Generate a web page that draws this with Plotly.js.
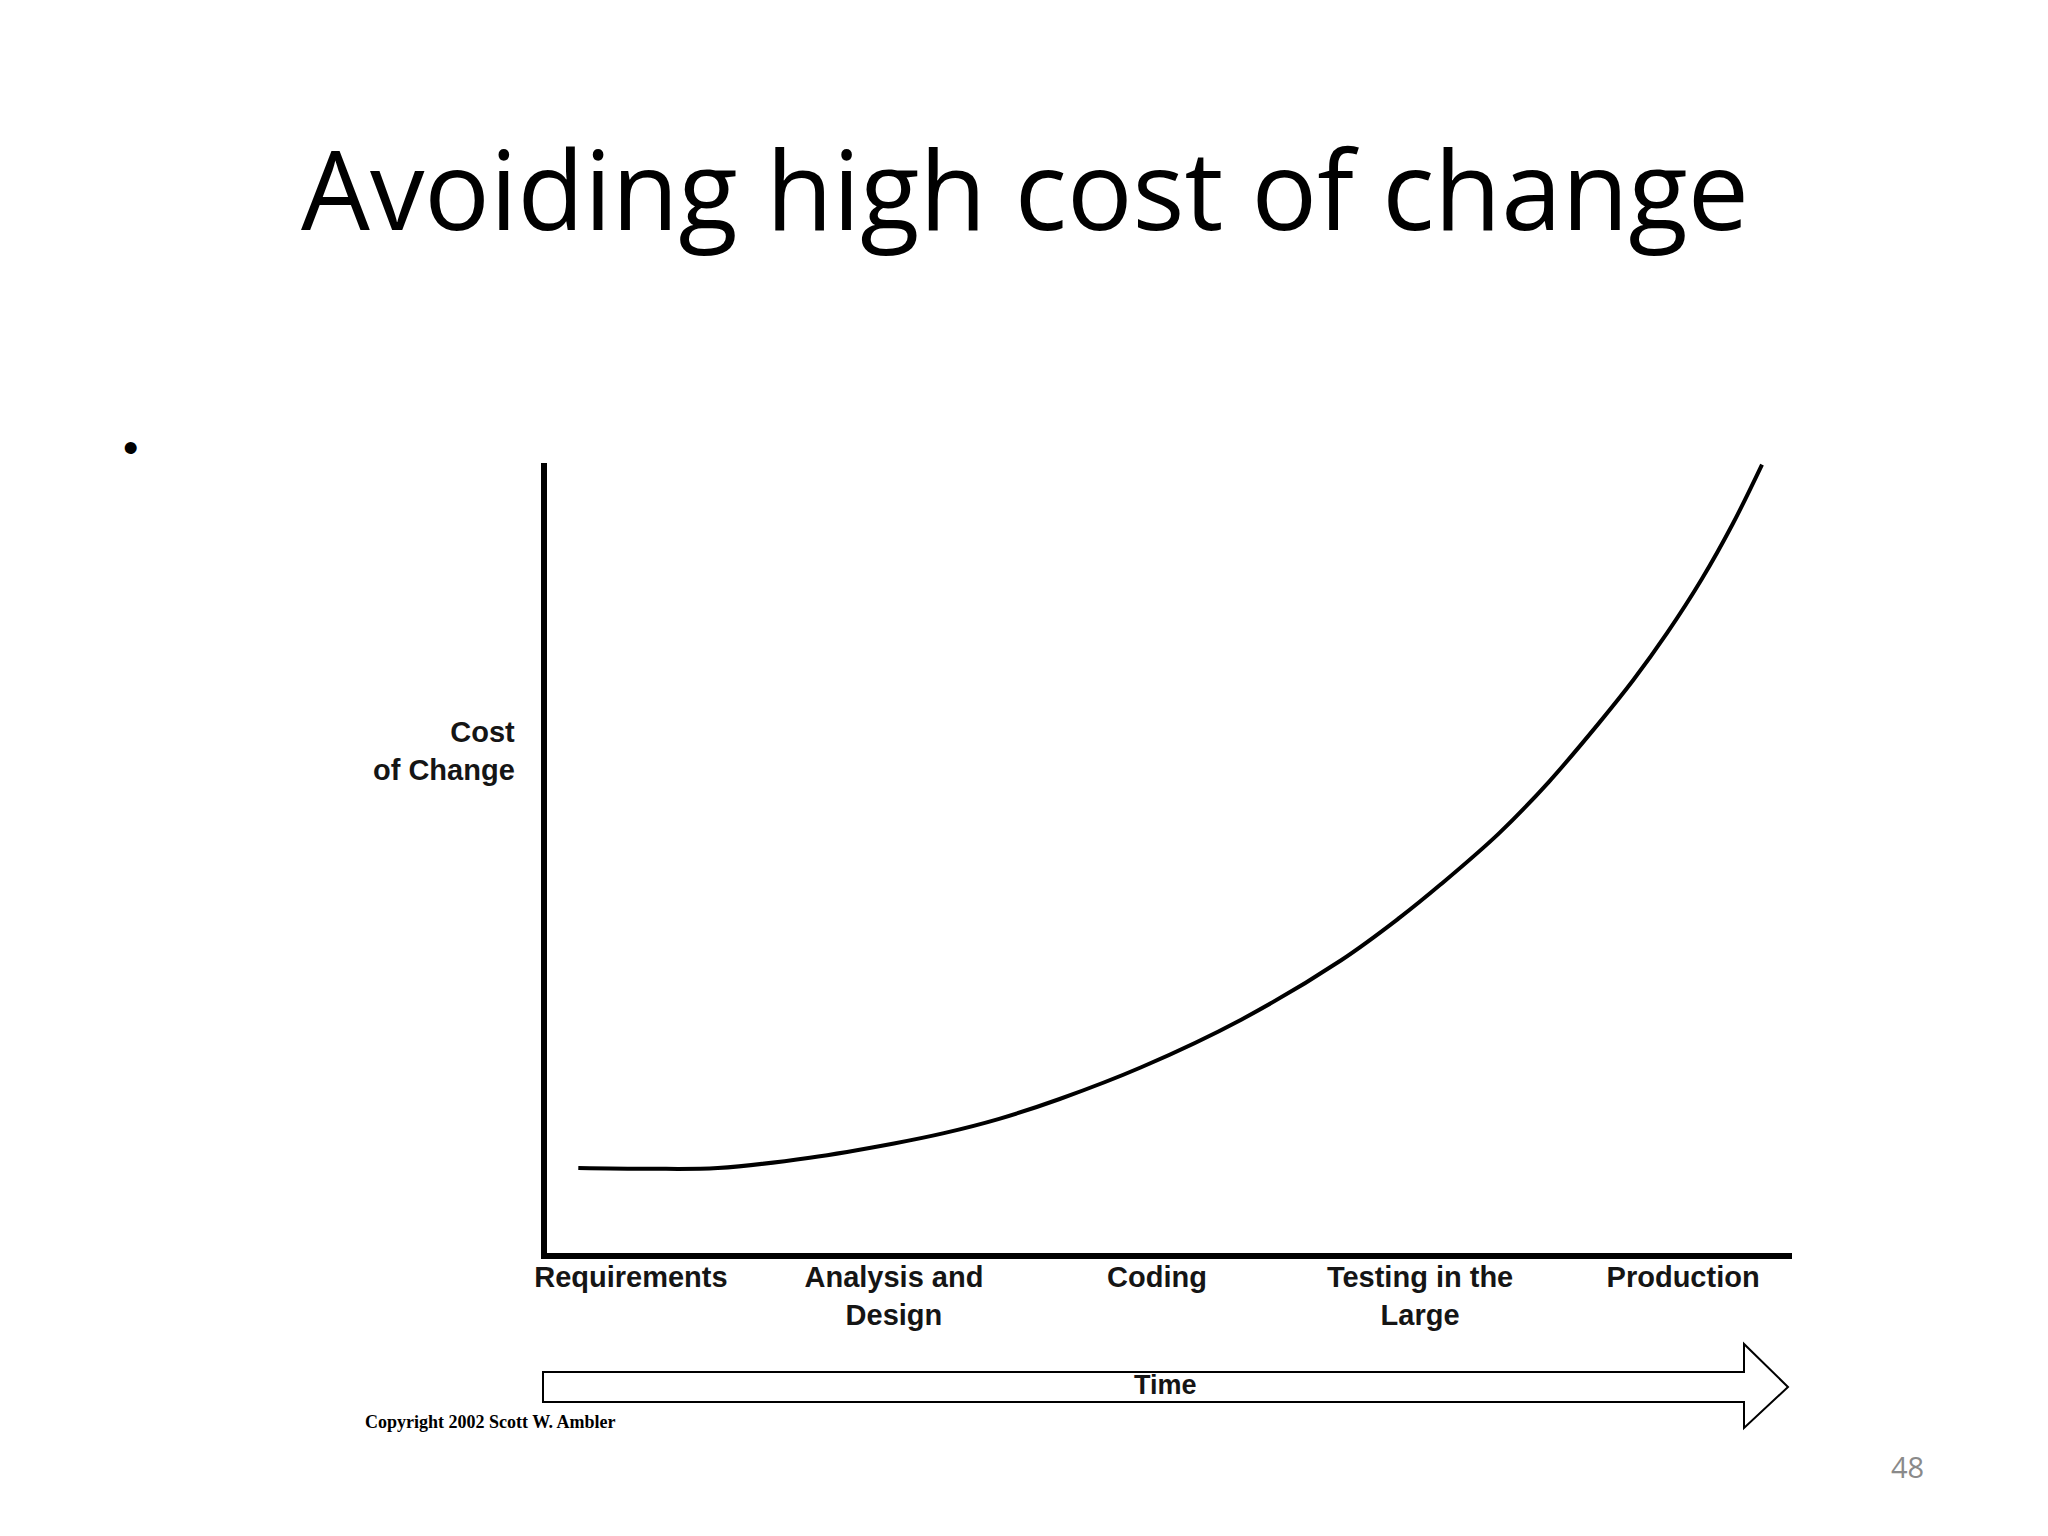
<!DOCTYPE html>
<html>
<head>
<meta charset="utf-8">
<script src="https://cdn.plot.ly/plotly-3.0.1.min.js"></script>
<style>html,body{margin:0;padding:0;background:#fff;}#chart{width:2048px;height:1536px;}</style>
</head>
<body>
<div id="chart"></div>
<script>
// ---- data ----
const phases = ["Requirements", "Analysis and<br>Design", "Coding", "Testing in the<br>Large", "Production"];
const phasePos = [0, 1, 2, 3, 4];
// cost-of-change curve (x in phase units, y in % of axis height)
const timeX = [-0.20, 0.07, 0.33, 0.68, 1.00, 1.19, 1.40, 1.63, 1.94, 2.32, 2.70, 2.92, 3.08, 3.30, 3.49, 3.68, 3.81, 3.94, 4.07, 4.19, 4.30];
const costY = [11.1, 11.0, 11.1, 12.4, 14.2, 15.5, 17.3, 19.8, 23.8, 29.8, 37.3, 42.6, 46.9, 53.3, 59.8, 67.2, 72.6, 78.6, 85.3, 92.4, 99.8];
const titleText = "Avoiding high cost of change";
const yLabel = "Cost<br>of Change";
const arrowLabel = "Time";
const copyright = "Copyright 2002 Scott W. Ambler";
const pageNo = "48";

// ---- layout helpers (pixel -> paper) ----
const L = 547, R = 1792, T = 463, B = 1253;
const W = R - L, H = B - T;
const px = x => (x - L) / W;
const py = y => (B - y) / H;

const trace = {
  x: timeX, y: costY, type: "scatter", mode: "lines",
  line: {color: "#000", width: 4, shape: "spline", smoothing: 1},
  hoverinfo: "skip", cliponaxis: false
};

const arrowPath = "M " + px(543) + " " + py(1372) +
  " L " + px(1744) + " " + py(1372) +
  " L " + px(1744) + " " + py(1344) +
  " L " + px(1788) + " " + py(1387) +
  " L " + px(1744) + " " + py(1428) +
  " L " + px(1744) + " " + py(1402) +
  " L " + px(543) + " " + py(1402) + " Z";

const layout = {
  width: 2048, height: 1536,
  margin: {l: L, r: 2048 - R, t: T, b: 1536 - B, pad: 0},
  paper_bgcolor: "#fff", plot_bgcolor: "#fff",
  showlegend: false,
  title: {
    text: titleText, xref: "container", yref: "container",
    x: 1025 / 2048, y: 1 - 192 / 1536, xanchor: "center", yanchor: "middle",
    font: {family: "Open Sans", size: 109, color: "#000"}
  },
  xaxis: {
    range: [-0.319, 4.414], tickmode: "array", tickvals: phasePos, ticktext: phases,
    showline: true, linecolor: "#000", linewidth: 6, showgrid: false, zeroline: false,
    ticks: "", ticklabelstandoff: -7,
    tickfont: {family: "Liberation Sans", size: 29, color: "#151515", weight: "bold"},
    fixedrange: true
  },
  yaxis: {
    range: [0.38, 100], showticklabels: false, showline: true, linecolor: "#000", linewidth: 6,
    showgrid: false, zeroline: false, ticks: "", fixedrange: true
  },
  shapes: [{
    type: "path", xref: "paper", yref: "paper", path: arrowPath,
    line: {color: "#000", width: 2}, fillcolor: "#fff", layer: "above"
  }],
  annotations: [
    {text: yLabel, xref: "paper", yref: "paper", x: px(517), y: py(751), xanchor: "right", yanchor: "middle",
     align: "right", showarrow: false, font: {family: "Liberation Sans", size: 29, color: "#151515", weight: "bold"}},
    {text: arrowLabel, xref: "paper", yref: "paper", x: px(1165), y: py(1385), xanchor: "center", yanchor: "middle",
     showarrow: false, font: {family: "Liberation Sans", size: 27, color: "#151515", weight: "bold"}},
    {text: copyright, xref: "paper", yref: "paper", x: px(363), y: py(1422), xanchor: "left", yanchor: "middle",
     showarrow: false, font: {family: "Liberation Serif", size: 18, color: "#000", weight: "bold"}},
    {text: pageNo, xref: "paper", yref: "paper", x: px(1907), y: py(1466), xanchor: "center", yanchor: "middle",
     showarrow: false, font: {family: "Open Sans", size: 29, color: "#8a8a8a"}},
    {text: "•", xref: "paper", yref: "paper", x: px(131), y: py(448), xanchor: "center", yanchor: "middle",
     showarrow: false, font: {family: "Liberation Sans", size: 44, color: "#000"}}
  ]
};

Plotly.newPlot("chart", [trace], layout, {displayModeBar: false, staticPlot: true});
</script>
</body>
</html>
